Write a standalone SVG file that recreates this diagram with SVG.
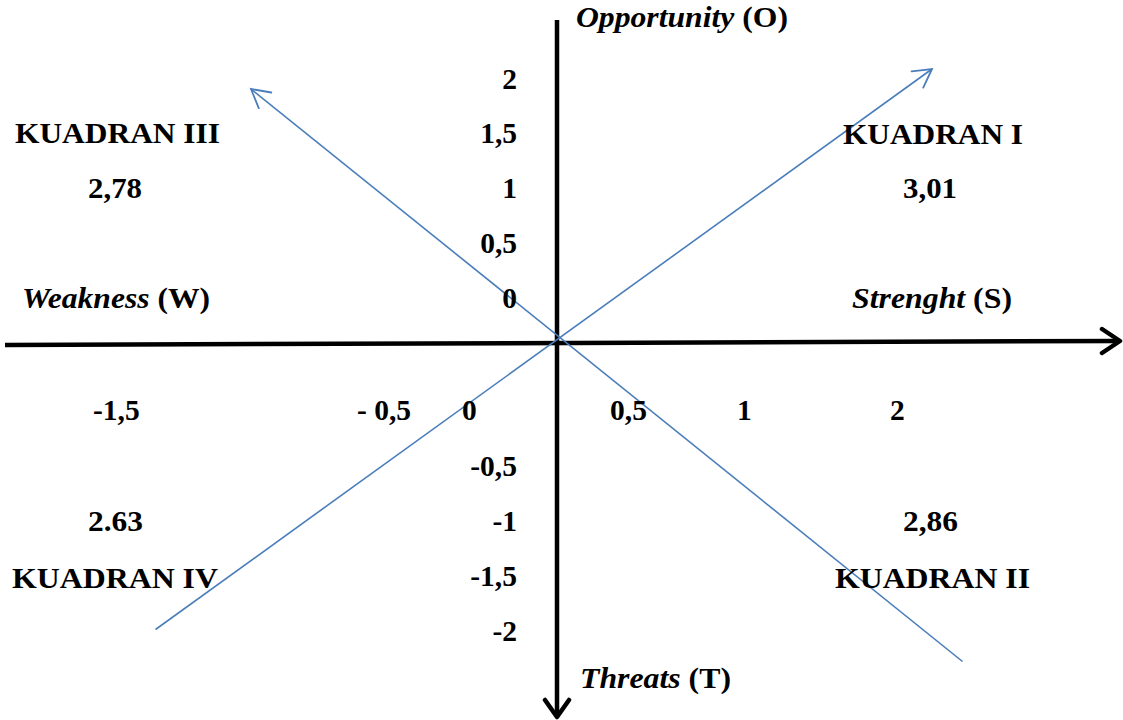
<svg xmlns="http://www.w3.org/2000/svg" width="1123" height="720" viewBox="0 0 1123 720">
<style>
  text { font-family: "Liberation Serif", "Times New Roman", serif; font-weight: bold; font-size: 29.5px; fill: #000; }
  .i { font-style: italic; }
  .axis { stroke: #000; stroke-width: 4.5; fill: none; }
  .head { stroke: #000; stroke-width: 4.5; fill: none; stroke-linecap: round; stroke-linejoin: round; }
  .diag { stroke: #4A7EBB; stroke-width: 1.6; fill: none; }
</style>
<defs>
  <marker id="blueArrow" markerUnits="userSpaceOnUse" markerWidth="30" markerHeight="30" refX="22" refY="12" orient="auto" viewBox="0 0 30 24">
    <path d="M4,2 L22,12 L4,22" fill="none" stroke="#4A7EBB" stroke-width="1.8" stroke-linecap="round"/>
  </marker>
</defs>
<rect width="1123" height="720" fill="#fff"/>
<g id="connectors">
  <line class="axis" x1="5" y1="345" x2="1119" y2="341"/>
  <path class="head" d="M1102,329 L1120,341 L1102,353"/>
  <line class="axis" x1="557" y1="20" x2="557" y2="716"/>
  <path class="head" d="M545,700 L557,717 L569,700"/>
  <line class="diag" x1="155.5" y1="629.5" x2="932" y2="69" marker-end="url(#blueArrow)"/>
  <line class="diag" x1="962.5" y1="661.5" x2="251" y2="89" marker-end="url(#blueArrow)"/>
</g>
<g id="axis-labels">
  <text x="576" y="27" textLength="212" lengthAdjust="spacingAndGlyphs"><tspan class="i">Opportunity</tspan> (O)</text>
  <text x="580" y="688" textLength="151" lengthAdjust="spacingAndGlyphs"><tspan class="i">Threats</tspan> (T)</text>
  <text x="22" y="308" textLength="188" lengthAdjust="spacingAndGlyphs"><tspan class="i">Weakness</tspan> (W)</text>
  <text x="852" y="308" textLength="160" lengthAdjust="spacingAndGlyphs"><tspan class="i">Strenght</tspan> (S)</text>
</g>
<g id="quadrant-1">
  <text x="843" y="144" textLength="180" lengthAdjust="spacingAndGlyphs">KUADRAN I</text>
  <text x="903" y="198" textLength="54" lengthAdjust="spacingAndGlyphs">3,01</text>
</g>
<g id="quadrant-2">
  <text x="903" y="531" textLength="55" lengthAdjust="spacingAndGlyphs">2,86</text>
  <text x="835" y="588" textLength="195" lengthAdjust="spacingAndGlyphs">KUADRAN II</text>
</g>
<g id="quadrant-3">
  <text x="15" y="143" textLength="205" lengthAdjust="spacingAndGlyphs">KUADRAN III</text>
  <text x="88" y="198" textLength="54" lengthAdjust="spacingAndGlyphs">2,78</text>
</g>
<g id="quadrant-4">
  <text x="88" y="531" textLength="55" lengthAdjust="spacingAndGlyphs">2.63</text>
  <text x="12" y="588" textLength="206" lengthAdjust="spacingAndGlyphs">KUADRAN IV</text>
</g>
<g id="y-ticks" text-anchor="end">
  <text x="517" y="89">2</text>
  <text x="517" y="143">1,5</text>
  <text x="517" y="198">1</text>
  <text x="517" y="253">0,5</text>
  <text x="517" y="308">0</text>
  <text x="517" y="476">-0,5</text>
  <text x="517" y="531">-1</text>
  <text x="517" y="586">-1,5</text>
  <text x="517" y="641">-2</text>
</g>
<g id="x-ticks">
  <text x="93" y="420">-1,5</text>
  <text x="357" y="420">- 0,5</text>
  <text x="462" y="420">0</text>
  <text x="610" y="420">0,5</text>
  <text x="737" y="420">1</text>
  <text x="890" y="420">2</text>
</g>
</svg>
